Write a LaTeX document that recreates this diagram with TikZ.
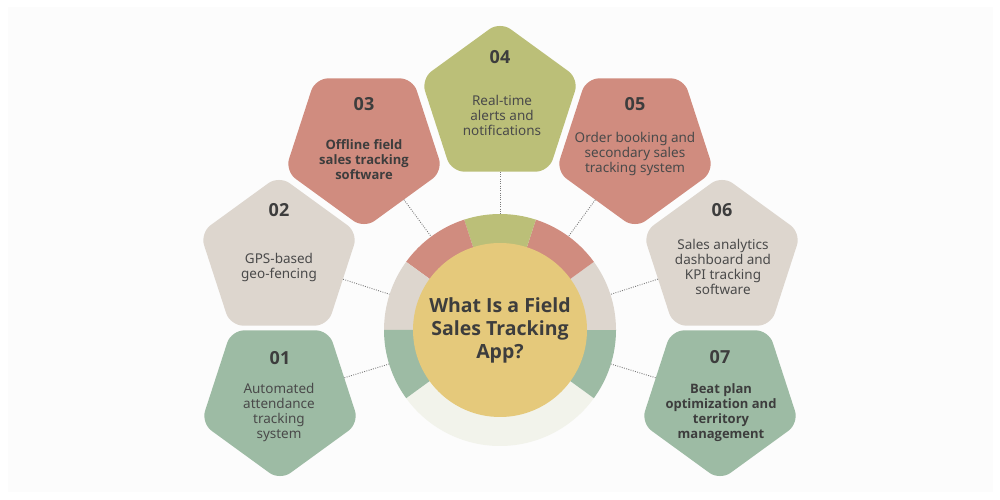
\documentclass[tikz,border=0pt]{standalone}
\usepackage{fontspec}
\setmainfont{Noto Sans}
\newfontfamily\headfont{Open Sans}
\usetikzlibrary{shapes.geometric}
\definecolor{bgin}{HTML}{FCFCFC}
\definecolor{cgreen}{HTML}{9DBBA4}
\definecolor{cbeige}{HTML}{DDD6CE}
\definecolor{csalmon}{HTML}{D08C7F}
\definecolor{colive}{HTML}{BBBF78}
\definecolor{cyellow}{HTML}{E5C97B}
\definecolor{clight}{HTML}{F2F3EB}
\definecolor{cdark}{HTML}{3D3D3D}
\definecolor{cbody}{HTML}{4A4A4A}
\definecolor{cdot}{HTML}{7A7A7A}
\begin{document}
\begin{tikzpicture}[x=1pt,y=1pt,
  pent/.style={regular polygon, regular polygon sides=5, minimum size=166pt,
    inner sep=0pt, rounded corners=13pt, draw=none},
  pup/.style={pent},
  pdown/.style={pent, shape border rotate=180},
  numtxt/.style={text=cdark, font=\headfont\fontsize{18}{20}\selectfont\bfseries, inner sep=0pt},
  bodytxt/.style={text=cbody, font=\fontsize{13.5}{15}\selectfont, align=center, inner sep=0pt},
  boldtxt/.style={bodytxt, font=\headfont\fontsize{13}{15}\selectfont\bfseries, text=cdark},
  conn/.style={draw=cdot, line width=0.9pt, dash pattern=on 0.9pt off 1.4pt}
]
\useasboundingbox (0,0) rectangle (1000,500);
\fill[white] (0,0) rectangle (1000,500);
\fill[bgin] (8,8) rectangle (993,493);

% pentagons
\node[pdown, fill=cgreen]  (p1) at (280,102.5) {};
\node[pup,   fill=cbeige]  (p2) at (279,241.5) {};
\node[pdown, fill=csalmon] (p3) at (364,354.5) {};
\node[pup,   fill=colive]  (p4) at (500,395.5) {};
\node[pdown, fill=csalmon] (p5) at (635,354.5) {};
\node[pup,   fill=cbeige]  (p6) at (722,241.5) {};
\node[pdown, fill=cgreen]  (p7) at (720,102.5) {};

% ring
\coordinate (c) at (500,170);
\node[circle, minimum size=232pt, inner sep=0pt] (ring) at (c) {};
\fill[clight]  (c) -- ++(216:116) arc[start angle=216, end angle=324, radius=116] -- cycle;
\fill[cgreen]  (c) -- ++(324:116) arc[start angle=324, end angle=360, radius=116] -- cycle;
\fill[cbeige]  (c) -- ++(0:116)   arc[start angle=0,   end angle=36,  radius=116] -- cycle;
\fill[csalmon] (c) -- ++(36:116)  arc[start angle=36,  end angle=72,  radius=116] -- cycle;
\fill[colive]  (c) -- ++(72:116)  arc[start angle=72,  end angle=108, radius=116] -- cycle;
\fill[csalmon] (c) -- ++(108:116) arc[start angle=108, end angle=144, radius=116] -- cycle;
\fill[cbeige]  (c) -- ++(144:116) arc[start angle=144, end angle=180, radius=116] -- cycle;
\fill[cgreen]  (c) -- ++(180:116) arc[start angle=180, end angle=216, radius=116] -- cycle;
\node[circle, fill=cyellow, minimum size=174pt, inner sep=0pt, align=center,
  text=cdark, font=\headfont\fontsize{19.5}{23}\selectfont\bfseries] (hub) at (c)
  {What Is a Field\\Sales Tracking\\App?};

% connectors
\foreach \p in {p1,p2,p3,p4,p5,p6,p7} {\path[conn] (\p) -- (ring);}

% texts
\node[numtxt] (n1) at (280,142) {01};
\node[bodytxt] (t1) at (279,88) {Automated\\attendance\\tracking\\system};
\node[numtxt] (n2) at (279,290) {02};
\node[bodytxt] (t2) at (279,233) {GPS-based\\geo-fencing};
\node[numtxt] (n3) at (364,396) {03};
\node[boldtxt] (t3) at (364,340) {Offline field\\sales tracking\\software};
\node[numtxt] (n4) at (500,443) {04};
\node[bodytxt] (t4) at (502,385) {Real-time\\alerts and\\notifications};
\node[numtxt] (n5) at (635,396) {05};
\node[bodytxt] (t5) at (635,346) {Order booking and\\secondary sales\\tracking system};
\node[numtxt] (n6) at (722,290) {06};
\node[bodytxt] (t6) at (723,233) {Sales analytics\\dashboard and\\KPI tracking\\software};
\node[numtxt] (n7) at (720,143) {07};
\node[boldtxt] (t7) at (721,87) {Beat plan\\optimization and\\territory\\management};
\end{tikzpicture}
\end{document}
